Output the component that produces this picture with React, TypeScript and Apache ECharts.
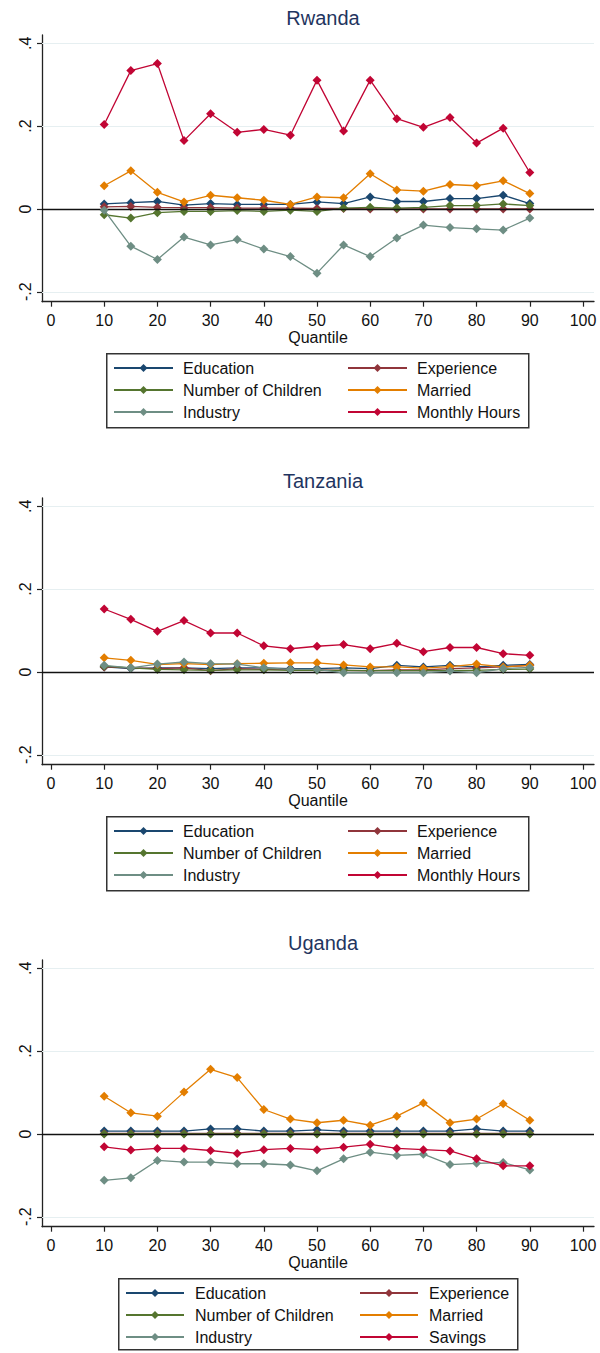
import React, { useEffect, useRef } from "react";
import * as echarts from "echarts";

const quantiles = [10, 15, 20, 25, 30, 35, 40, 45, 50, 55, 60, 65, 70, 75, 80, 85, 90];
const xTicks = [0, 10, 20, 30, 40, 50, 60, 70, 80, 90, 100];
const yTicks = [-0.2, 0, 0.2, 0.4];
const panelTitles = ["Rwanda", "Tanzania", "Uganda"];
const seriesNamesA = ["Education", "Experience", "Number of Children", "Married", "Industry", "Monthly Hours"];
const seriesNamesB = ["Education", "Experience", "Number of Children", "Married", "Industry", "Savings"];

// Rwanda
const rwEducation = [0.012, 0.015, 0.018, 0.009, 0.013, 0.011, 0.011, 0.011, 0.017, 0.013, 0.029, 0.018, 0.018, 0.025, 0.025, 0.033, 0.013];
const rwExperience = [0.005, 0.006, 0.004, 0.003, 0.003, 0.002, 0.002, 0.002, 0.001, 0.001, 0.0, 0.0, 0.0, 0.0, 0.0, 0.0, 0.0];
const rwChildren = [-0.014, -0.022, -0.009, -0.006, -0.006, -0.004, -0.006, -0.003, -0.006, 0.002, 0.004, 0.002, 0.004, 0.008, 0.008, 0.012, 0.008];
const rwMarried = [0.056, 0.092, 0.04, 0.017, 0.033, 0.027, 0.021, 0.011, 0.029, 0.027, 0.085, 0.046, 0.043, 0.059, 0.056, 0.068, 0.037];
const rwIndustry = [-0.003, -0.09, -0.122, -0.068, -0.087, -0.074, -0.097, -0.115, -0.155, -0.087, -0.115, -0.07, -0.039, -0.045, -0.048, -0.051, -0.022];
const rwHours = [0.204, 0.334, 0.351, 0.165, 0.23, 0.185, 0.192, 0.178, 0.311, 0.188, 0.311, 0.218, 0.197, 0.221, 0.159, 0.195, 0.088];

// Tanzania
const tzEducation = [0.012, 0.008, 0.01, 0.01, 0.008, 0.01, 0.01, 0.008, 0.008, 0.01, 0.008, 0.016, 0.012, 0.016, 0.012, 0.016, 0.018];
const tzExperience = [0.012, 0.01, 0.008, 0.01, 0.003, 0.008, 0.006, 0.006, 0.005, 0.004, 0.003, 0.005, 0.005, 0.008, 0.01, 0.012, 0.016];
const tzChildren = [0.014, 0.01, 0.006, 0.005, 0.004, 0.005, 0.005, 0.004, 0.004, 0.004, 0.003, 0.003, 0.003, 0.004, 0.004, 0.006, 0.007];
const tzMarried = [0.034, 0.028, 0.018, 0.02, 0.018, 0.02, 0.021, 0.022, 0.022, 0.017, 0.012, 0.012, 0.009, 0.013, 0.019, 0.012, 0.016];
const tzIndustry = [0.016, 0.01, 0.019, 0.024, 0.02, 0.019, 0.01, 0.006, 0.006, -0.002, -0.002, -0.002, -0.002, 0.002, -0.002, 0.008, 0.011];
const tzHours = [0.152, 0.127, 0.098, 0.124, 0.094, 0.094, 0.063, 0.056, 0.062, 0.066, 0.056, 0.069, 0.049, 0.059, 0.059, 0.044, 0.04];

// Uganda
const ugEducation = [0.007, 0.007, 0.007, 0.007, 0.012, 0.012, 0.007, 0.007, 0.01, 0.007, 0.007, 0.007, 0.007, 0.007, 0.012, 0.007, 0.007];
const ugExperience = [0.001, 0.001, 0.001, 0.001, 0.001, 0.001, 0.001, 0.001, 0.001, 0.001, 0.001, 0.001, 0.001, 0.001, 0.001, 0.001, 0.001];
const ugChildren = [0.0, 0.0, 0.0, 0.0, 0.0, 0.0, 0.0, 0.0, 0.0, 0.0, 0.0, 0.0, 0.0, 0.0, 0.0, 0.0, 0.0];
const ugMarried = [0.091, 0.051, 0.043, 0.101, 0.156, 0.136, 0.059, 0.036, 0.027, 0.033, 0.021, 0.043, 0.075, 0.027, 0.036, 0.073, 0.033];
const ugIndustry = [-0.112, -0.106, -0.064, -0.068, -0.068, -0.072, -0.072, -0.075, -0.089, -0.06, -0.044, -0.052, -0.049, -0.074, -0.071, -0.069, -0.087];
const ugSavings = [-0.031, -0.039, -0.035, -0.035, -0.04, -0.047, -0.038, -0.035, -0.038, -0.032, -0.025, -0.035, -0.038, -0.041, -0.06, -0.077, -0.077];

const colors = ["#1a476f", "#90353b", "#55752f", "#e37e00", "#6e8e84", "#c10534"];

const panelData = [
  [rwEducation, rwExperience, rwChildren, rwMarried, rwIndustry, rwHours],
  [tzEducation, tzExperience, tzChildren, tzMarried, tzIndustry, tzHours],
  [ugEducation, ugExperience, ugChildren, ugMarried, ugIndustry, ugSavings],
];
const panelNames = [seriesNamesA, seriesNamesA, seriesNamesB];

const FONT = "'Liberation Sans', Arial, sans-serif";

function fmtY(v: number): string {
  if (Math.abs(v) < 1e-9) return "0";
  const d = Math.round(Math.abs(v) * 10);
  return (v < 0 ? "-." : ".") + d;
}

export default function App() {
  const ref = useRef<HTMLDivElement>(null);
  useEffect(() => {
    if (!ref.current) return;
    const chart = echarts.init(ref.current, undefined, { renderer: "svg" });
    const offsets = [0, 463, 925];
    const gridTop = 35;
    const gridH = 266.7;
    const grids: any[] = [];
    const xAxes: any[] = [];
    const yAxes: any[] = [];
    const titles: any[] = [];
    const series: any[] = [];
    const legends: any[] = [];
    const graphics: any[] = [];

    for (let p = 0; p < 3; p++) {
      const off = offsets[p];
      grids.push({ left: 42, top: gridTop + off, width: 552, height: gridH, containLabel: false });
      xAxes.push({
        gridIndex: p,
        type: "value",
        min: -1.69,
        max: 102.07,
        axisLine: { show: true, onZero: false, lineStyle: { color: "#222", width: 1.3 } },
        axisTick: { show: true, length: 5, customValues: xTicks, lineStyle: { color: "#222", width: 1.2 } },
        axisLabel: { show: true, customValues: xTicks, fontSize: 16, color: "#111", margin: 11, fontFamily: FONT },
        splitLine: { show: false },
        name: "Quantile",
        nameLocation: "middle",
        nameGap: 22,
        nameTextStyle: { fontSize: 16, color: "#111", fontFamily: FONT },
      });
      yAxes.push({
        gridIndex: p,
        type: "value",
        min: -0.224,
        max: 0.42,
        axisLine: { show: true, onZero: false, lineStyle: { color: "#222", width: 1.3 } },
        axisTick: { show: true, length: 5, customValues: yTicks, lineStyle: { color: "#222", width: 1.2 } },
        axisLabel: {
          show: true,
          customValues: yTicks,
          rotate: 90,
          fontSize: 16,
          color: "#111",
          margin: 9,
          fontFamily: FONT,
          formatter: (v: number) => fmtY(v),
        },
        splitLine: { show: false },
      });
      titles.push({
        text: panelTitles[p],
        left: 318,
        textAlign: "center",
        top: 3 + off,
        textStyle: { fontSize: 20, fontWeight: "normal", color: "#1f3560", fontFamily: FONT },
      });
      series.push({
        type: "line",
        name: "_ref" + p,
        xAxisIndex: p,
        yAxisIndex: p,
        data: [[50, 0]],
        symbol: "none",
        lineStyle: { opacity: 0 },
        z: 1,
        silent: true,
        markLine: {
          silent: true,
          symbol: ["none", "none"],
          label: { show: false },
          data: [
            { yAxis: 0.4, lineStyle: { color: "#e6eff1", width: 1.2, type: "solid" } },
            { yAxis: 0.2, lineStyle: { color: "#e6eff1", width: 1.2, type: "solid" } },
            { yAxis: -0.2, lineStyle: { color: "#e6eff1", width: 1.2, type: "solid" } },
            { yAxis: 0, lineStyle: { color: "#111", width: 1.3, type: "solid" } },
          ],
        },
      });
      const names = panelNames[p];
      for (let s = 0; s < 6; s++) {
        const vals = panelData[p][s];
        series.push({
          type: "line",
          name: names[s],
          xAxisIndex: p,
          yAxisIndex: p,
          data: quantiles.map((q, i) => [q, vals[i]]),
          symbol: "diamond",
          symbolSize: 9,
          showSymbol: true,
          color: colors[s],
          itemStyle: { color: colors[s] },
          lineStyle: { color: colors[s], width: 1.3 },
          z: 2 + s,
        });
      }
      const boxLeft = p === 2 ? 118 : 106;
      const boxW = p === 2 ? 399 : 422;
      const boxTop = p === 2 ? 1278 : 353 + off;
      const boxH = p === 2 ? 71 : 74;
      graphics.push({
        type: "rect",
        left: boxLeft,
        top: boxTop,
        shape: { width: boxW, height: boxH },
        style: { fill: "#fff", stroke: "#333", lineWidth: 1.5 },
        z: 0,
      });
      const col1 = p === 2 ? 125 : 113;
      const col2 = p === 2 ? 359 : 347;
      const iw = p === 2 ? 58 : 59;
      const common = {
        orient: "vertical",
        top: boxTop + 6,
        padding: 0,
        height: 80,
        itemWidth: iw,
        itemHeight: 10,
        itemGap: 4,
        selectedMode: false,
        textStyle: { fontSize: 16, color: "#111", fontFamily: FONT, lineHeight: 18, padding: [0, 0, 0, p === 2 ? 6 : 5] },
        z: 5,
      };
      legends.push({ ...common, left: col1, data: [names[0], names[2], names[4]] });
      legends.push({ ...common, left: col2, data: [names[1], names[3], names[5]] });
    }

    chart.setOption({
      animation: false,
      backgroundColor: "#fff",
      title: titles,
      grid: grids,
      xAxis: xAxes,
      yAxis: yAxes,
      legend: legends,
      series,
      graphic: graphics,
    });
    return () => chart.dispose();
  }, []);
  return (
    <div
      ref={ref}
      style={{ position: "absolute", left: 0, top: 0, width: 600, height: 1353, background: "#fff" }}
    />
  );
}
